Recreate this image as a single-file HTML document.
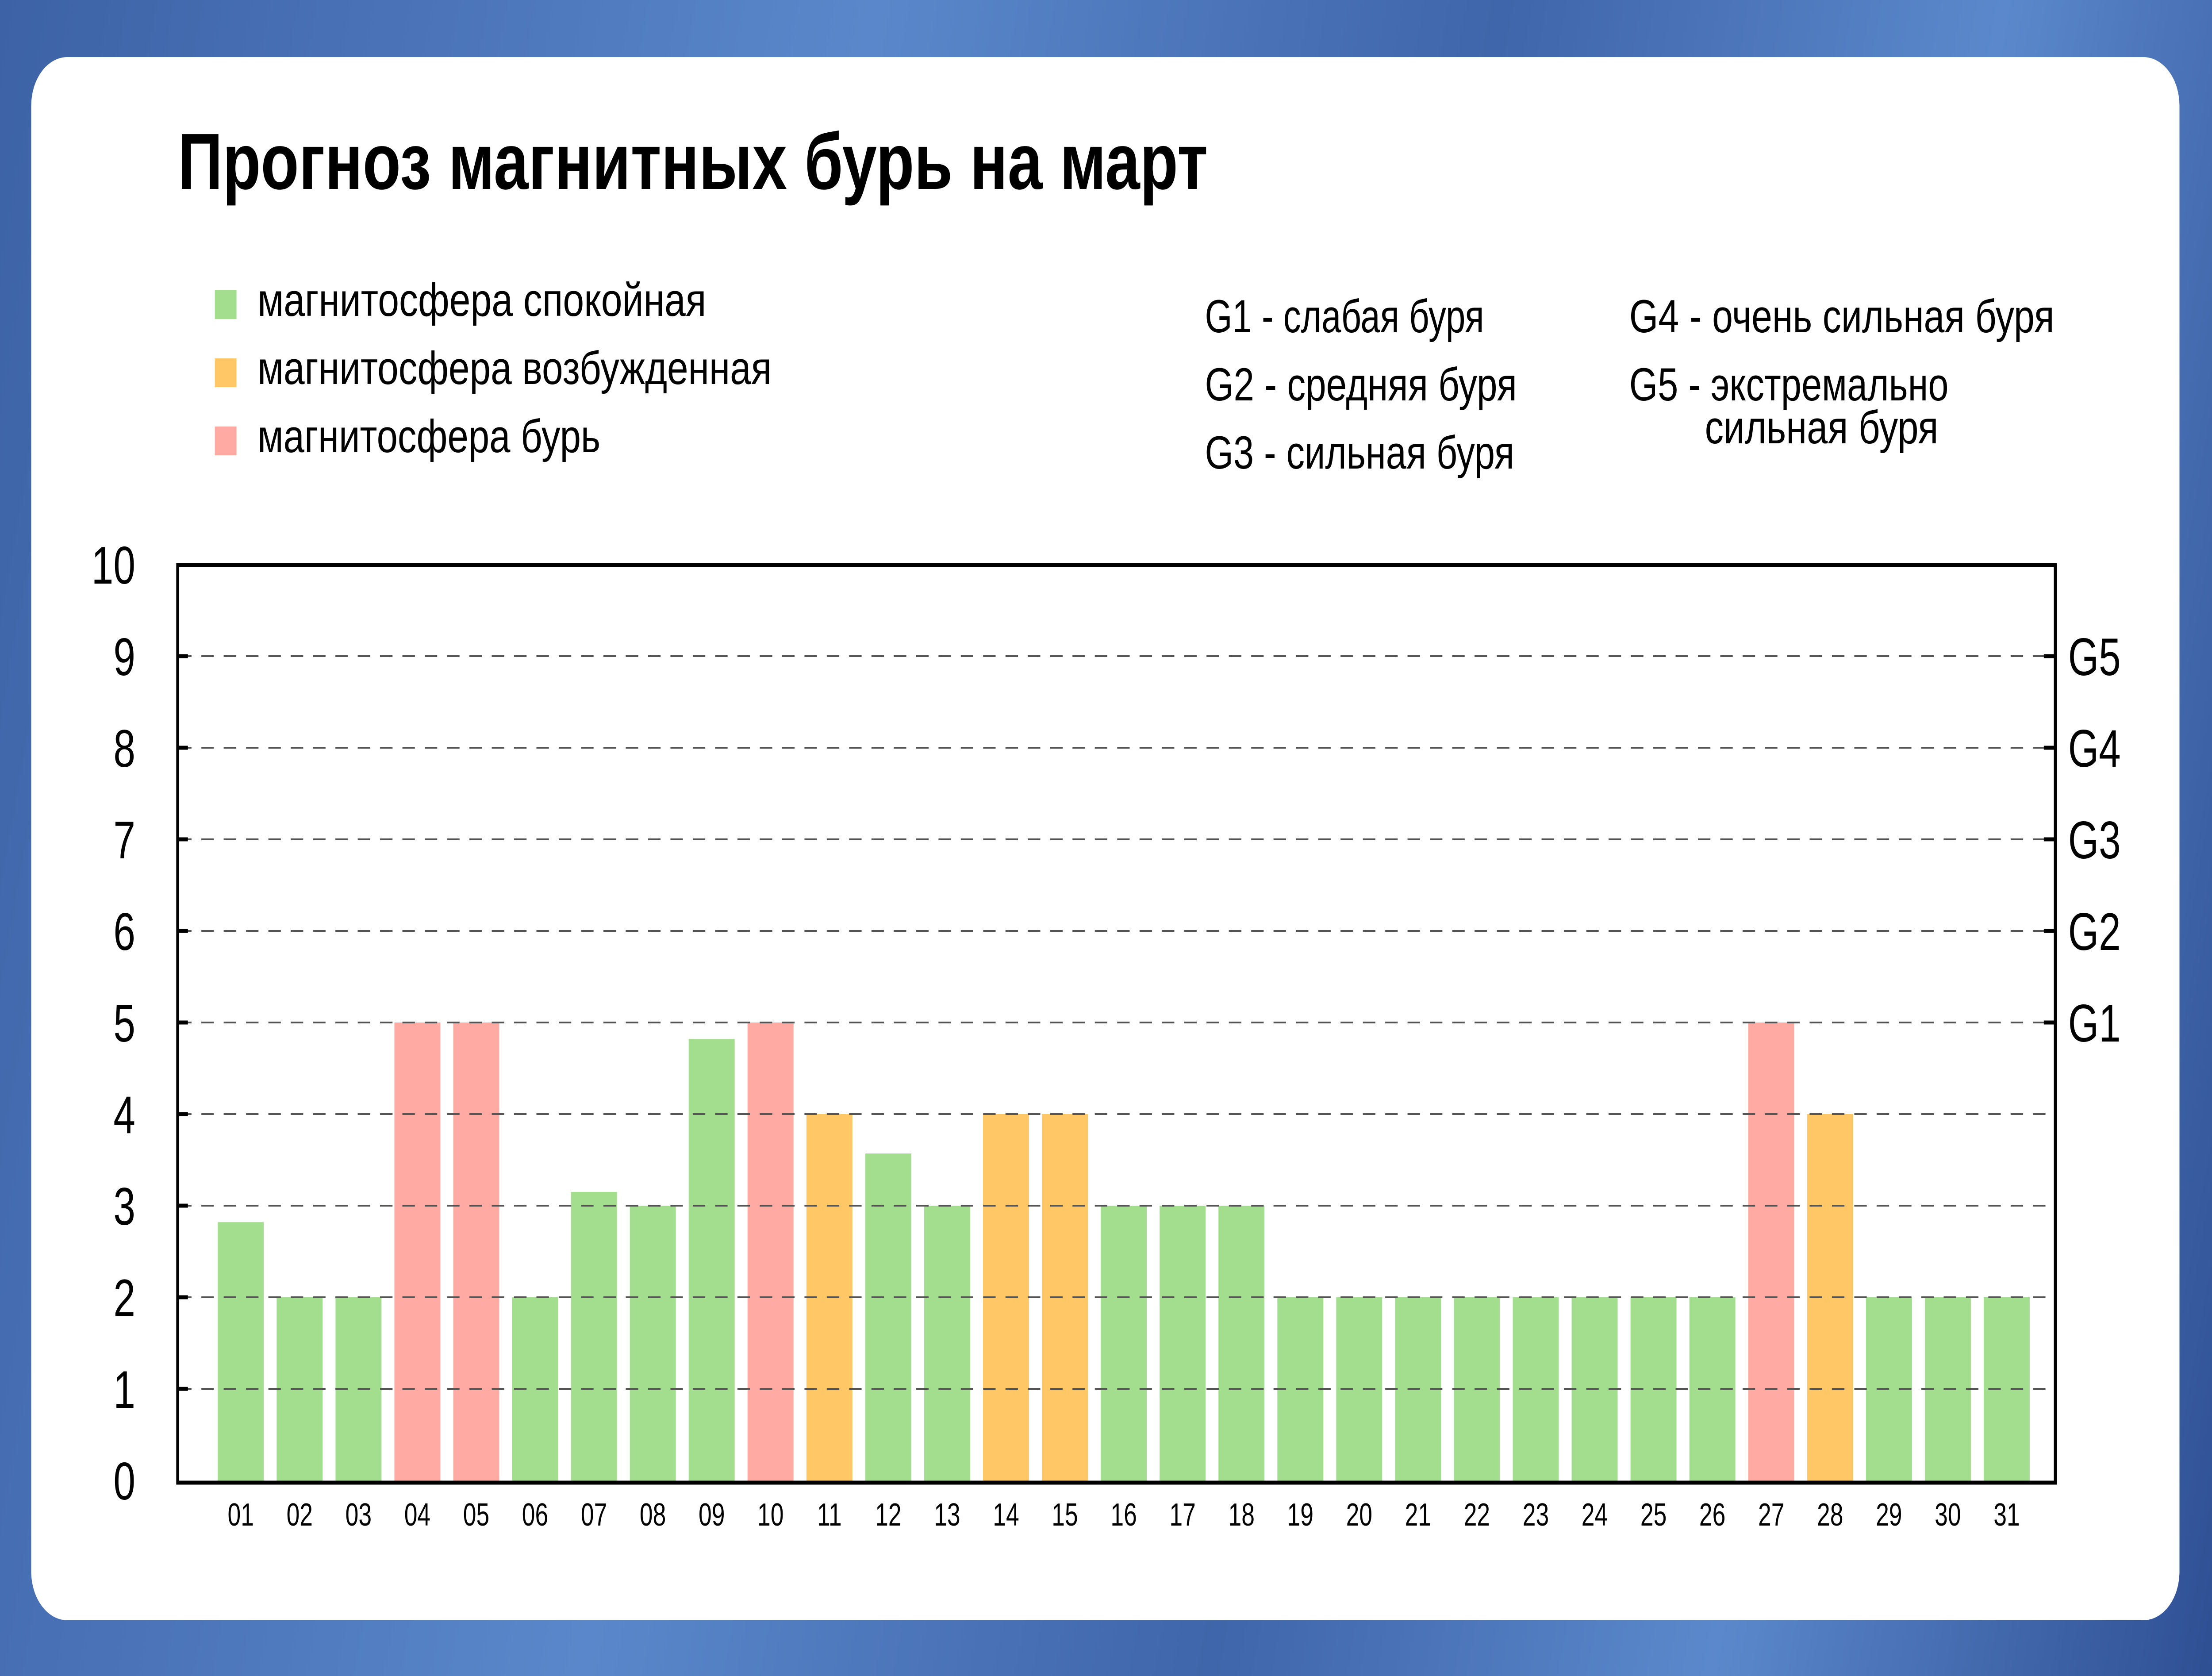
<!DOCTYPE html>
<html><head><meta charset="utf-8"><style>
html,body{margin:0;padding:0;width:100%;height:100%;overflow:hidden}
body{background:linear-gradient(100deg,#3d62a6 0%,#5a87cb 35%,#3f65aa 60%,#5b88cc 80%,#2f4f93 100%)}
svg{position:absolute;left:0;top:0;width:100vw;height:100vh}
text{font-family:"Liberation Sans","DejaVu Sans",sans-serif;fill:#000}
</style></head><body>
<svg viewBox="0 0 6734 3788" preserveAspectRatio="none" xmlns="http://www.w3.org/2000/svg">
<rect x="95" y="129" width="6540" height="3533" rx="110" fill="#fff"/>
<text x="541" y="427" font-size="180" font-weight="bold" textLength="3136" lengthAdjust="spacingAndGlyphs">Прогноз магнитных бурь на март</text>
<rect x="654" y="656" width="66" height="65" fill="#a3de8e"/>
<rect x="654" y="810" width="66" height="65" fill="#ffc766"/>
<rect x="654" y="964" width="66" height="65" fill="#ffaba3"/>
<g font-size="105">
<text x="784" y="714" textLength="1366" lengthAdjust="spacingAndGlyphs">магнитосфера спокойная</text>
<text x="784" y="868" textLength="1565" lengthAdjust="spacingAndGlyphs">магнитосфера возбужденная</text>
<text x="784" y="1022" textLength="1044" lengthAdjust="spacingAndGlyphs">магнитосфера бурь</text>
<text x="3668" y="751" textLength="850" lengthAdjust="spacingAndGlyphs">G1 - слабая буря</text>
<text x="3668" y="905" textLength="950" lengthAdjust="spacingAndGlyphs">G2 - средняя буря</text>
<text x="3668" y="1059" textLength="942" lengthAdjust="spacingAndGlyphs">G3 - сильная буря</text>
<text x="4960" y="751" textLength="1294" lengthAdjust="spacingAndGlyphs">G4 - очень сильная буря</text>
<text x="4960" y="905" textLength="972" lengthAdjust="spacingAndGlyphs">G5 - экстремально</text>
<text x="5190" y="1002" textLength="711" lengthAdjust="spacingAndGlyphs">сильная буря</text>
</g>
<g id="bars"></g>
<g id="grid" stroke="#555" stroke-width="4" stroke-dasharray="38,30"></g>
<rect x="541" y="1277" width="5716" height="2074" fill="none" stroke="#000" stroke-width="9"/>
<g id="ticks" stroke="#000" stroke-width="9"></g>
<g id="ylab" font-size="120" text-anchor="end"></g>
<g id="glab" font-size="120"></g>
<g id="xlab" font-size="72" text-anchor="middle"></g>
</svg>
<script>
const ns="http://www.w3.org/2000/svg";
function el(p,t,a,txt){const e=document.createElementNS(ns,t);for(const k in a)e.setAttribute(k,a[k]);if(txt!=null)e.textContent=txt;document.getElementById(p).appendChild(e);}
const y0=3346,u=207;
const vals=[2.82,2,2,5,5,2,3.15,3,4.82,5,4,3.57,3,4,4,3,3,3,2,2,2,2,2,2,2,2,5,4,2,2,2];
const cols={g:"#a3de8e",o:"#ffc766",r:"#ffaba3"};
const cc=["g","g","g","r","r","g","g","g","g","r","o","g","g","o","o","g","g","g","g","g","g","g","g","g","g","g","r","o","g","g","g"];
for(let i=0;i<31;i++){const cx=733+i*179.2;const h=vals[i]*u;
el("bars","rect",{x:cx-70,y:y0-h,width:140,height:h+5,fill:cols[cc[i]]});
el("xlab","text",{x:cx,y:3448},String(i+1).padStart(2,"0"));}
for(let v=0;v<=10;v++){const y=y0-v*u;
if(v>=1&&v<=9){el("grid","line",{x1:545,y1:y,x2:6253,y2:y});
el("ticks","line",{x1:541,y1:y,x2:572,y2:y});}
if(v>=5&&v<=9)el("ticks","line",{x1:6222,y1:y,x2:6257,y2:y});
el("ylab","text",{x:412,y:y+43},String(v));
if(v>=5&&v<=9)el("glab","text",{x:6296,y:y+43},"G"+(v-4));}
</script>
</body></html>
